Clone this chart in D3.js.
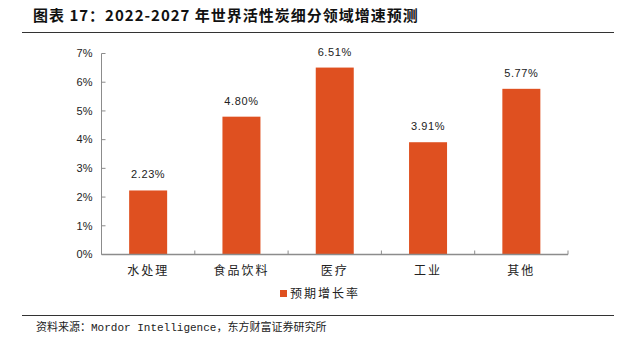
<!DOCTYPE html>
<html>
<head>
<meta charset="utf-8">
<script src="https://cdn.jsdelivr.net/npm/d3@7"></script>
<style>
  body { margin: 0; background: #fff; }
  svg { display: block; }
</style>
</head>
<body>
<div id="chart"></div>
<script>
const categories = ["水处理", "食品饮料", "医疗", "工业", "其他"];
const growth = [2.23, 4.80, 6.51, 3.91, 5.77];
const yTicks = [0, 1, 2, 3, 4, 5, 6, 7];
const seriesName = "预期增长率";
const titleText = "图表 17：2022-2027 年世界活性炭细分领域增速预测";
const sourceText = "资料来源：Mordor Intelligence，东方财富证券研究所";

const W = 624, H = 354;
const barColor = "#DF5020";
const axisColor = "#8c8c8c";
const cjk = "'Noto Sans CJK SC', sans-serif";
const latin = "'Liberation Sans', Arial, sans-serif";

const svg = d3.select("#chart").append("svg")
  .attr("width", W).attr("height", H);

// title and rules
svg.append("text")
  .attr("x", 33).attr("y", 21)
  .style("font-family", cjk).style("font-weight", "bold")
  .style("font-size", "15px").style("letter-spacing", "1px").attr("fill", "#111")
  .text(titleText);
svg.append("line").attr("x1", 22).attr("x2", 614).attr("y1", 32.5).attr("y2", 32.5)
  .attr("stroke", "#333").attr("stroke-width", 1);
svg.append("line").attr("x1", 22).attr("x2", 614).attr("y1", 315.5).attr("y2", 315.5)
  .attr("stroke", "#333").attr("stroke-width", 1);
svg.append("text")
  .attr("x", 36).attr("y", 331)
  .style("font-family", "'Liberation Mono', 'Noto Sans CJK SC', monospace")
  .style("font-size", "11px").attr("fill", "#222")
  .text(sourceText);

// scales
const x = d3.scaleBand().domain(categories).range([101.5, 568]).paddingInner(0).paddingOuter(0);
const y = d3.scaleLinear().domain([0, 7]).range([254.5, 53.5]);
const barW = 38;

// y axis
const yAxis = svg.append("g").attr("transform", "translate(101.5,0)");
yAxis.append("line").attr("y1", y(0)).attr("y2", y(7)).attr("stroke", axisColor);
yAxis.selectAll("line.tick").data(yTicks).join("line")
  .attr("class", "tick")
  .attr("x1", 0).attr("x2", 4)
  .attr("y1", d => y(d)).attr("y2", d => y(d))
  .attr("stroke", axisColor);
yAxis.selectAll("text").data(yTicks).join("text")
  .attr("x", -9).attr("y", d => y(d)).attr("dy", "0.35em")
  .attr("text-anchor", "end")
  .style("font-family", latin).style("font-size", "11px").attr("fill", "#222")
  .text(d => d + "%");

// bars
svg.selectAll("rect.bar").data(growth).join("rect")
  .attr("class", "bar")
  .attr("x", (d, i) => x(categories[i]) + x.bandwidth() / 2 - barW / 2)
  .attr("width", barW)
  .attr("y", d => y(d))
  .attr("height", d => y(0) - y(d))
  .attr("fill", barColor);

// value labels
svg.selectAll("text.val").data(growth).join("text")
  .attr("class", "val")
  .attr("x", (d, i) => x(categories[i]) + x.bandwidth() / 2)
  .attr("y", d => y(d) - 12)
  .attr("text-anchor", "middle")
  .style("font-family", latin).style("font-size", "11px")
  .style("letter-spacing", "0.6px").attr("fill", "#222")
  .text(d => d.toFixed(2) + "%");

// x axis
const xAxis = svg.append("g");
xAxis.append("line").attr("x1", 101.5).attr("x2", 568).attr("y1", y(0)).attr("y2", y(0))
  .attr("stroke", axisColor).attr("stroke-width", 1.5);
xAxis.selectAll("line.tick").data(categories.slice(1).concat(["end"])).join("line")
  .attr("class", "tick")
  .attr("x1", (d, i) => x.range()[0] + x.bandwidth() * (i + 1))
  .attr("x2", (d, i) => x.range()[0] + x.bandwidth() * (i + 1))
  .attr("y1", y(0)).attr("y2", y(0) - 4)
  .attr("stroke", axisColor);
xAxis.selectAll("text").data(categories).join("text")
  .attr("x", d => x(d) + x.bandwidth() / 2)
  .attr("y", 275)
  .attr("text-anchor", "middle")
  .style("font-family", cjk).style("font-size", "12px")
  .style("letter-spacing", "2px").attr("fill", "#222")
  .text(d => d);

// legend
const lg = svg.append("g").attr("transform", "translate(280,290)");
lg.append("rect").attr("width", 7).attr("height", 7).attr("fill", barColor);
lg.append("text").attr("x", 10).attr("y", 3.5).attr("dy", "0.35em")
  .style("font-family", cjk).style("font-size", "12px")
  .style("letter-spacing", "2px").attr("fill", "#222")
  .text(seriesName);
</script>
</body>
</html>
